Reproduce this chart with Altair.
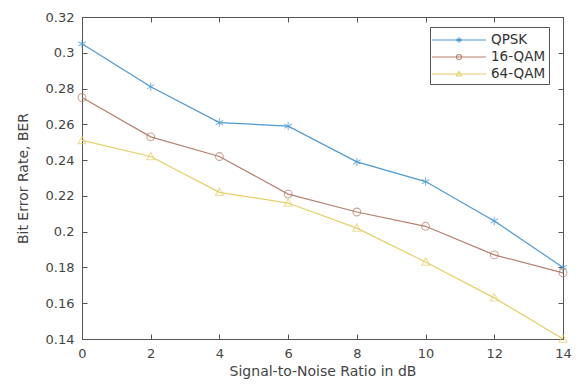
import altair as alt
import pandas as pd

snr = [0, 2, 4, 6, 8, 10, 12, 14]
qpsk = [0.305, 0.281, 0.261, 0.259, 0.239, 0.228, 0.206, 0.180]
qam16 = [0.275, 0.253, 0.242, 0.221, 0.211, 0.203, 0.187, 0.177]
qam64 = [0.251, 0.242, 0.222, 0.216, 0.202, 0.183, 0.163, 0.140]
yticks = [0.14, 0.16, 0.18, 0.2, 0.22, 0.24, 0.26, 0.28, 0.3, 0.32]
series = ["QPSK", "16-QAM", "64-QAM"]
colors = ["#4f9ad0", "#b8806e", "#e6cf6a"]
marker_paths = [
    "M0,-0.6L0,0.6M-0.52,-0.3L0.52,0.3M-0.52,0.3L0.52,-0.3",
    "M0.55,0A0.55,0.55,0,1,1,-0.55,0A0.55,0.55,0,1,1,0.55,0",
    "M0,-0.6L0.55,0.45L-0.55,0.45Z",
]
legend_paths = [
    "M-3,0H3M0,-0.3L0,0.3M-0.26,-0.15L0.26,0.15M-0.26,0.15L0.26,-0.15",
    "M-3,0H3M0.28,0A0.28,0.28,0,1,1,-0.28,0A0.28,0.28,0,1,1,0.28,0",
    "M-3,0H3M0,-0.3L0.28,0.22L-0.28,0.22Z",
]

rows = []
for name, vals in zip(series, [qpsk, qam16, qam64]):
    for x, v in zip(snr, vals):
        rows.append({"snr": x, "ber": v, "Scheme": name})
df = pd.DataFrame(rows)

xs = alt.Scale(domain=[0, 14], nice=False)
ys = alt.Scale(domain=[0.14, 0.32], nice=False)
col = alt.Color("Scheme:N", scale=alt.Scale(domain=series, range=colors), legend=None)

axis_common = dict(domainColor="#555", tickColor="#555", labelColor="#444",
                   titleColor="#444", labelFont="DejaVu Sans", titleFont="DejaVu Sans",
                   labelFontSize=13, titleFontSize=14, titleFontWeight="normal", grid=False,
                   labelFlush=False)

base = alt.Chart(df)

lines = base.mark_line(strokeWidth=1.2).encode(
    x=alt.X("snr:Q", scale=xs, axis=alt.Axis(title="Signal-to-Noise Ratio in dB",
            values=snr, format="d", tickSize=0, labelPadding=8, titlePadding=4, **axis_common)),
    y=alt.Y("ber:Q", scale=ys, axis=alt.Axis(title="Bit Error Rate, BER",
            values=yticks, format="~g",
            tickSize=0, labelPadding=8, titlePadding=15, **axis_common)),
    color=col,
    detail="Scheme:N",
)

points = base.mark_point(filled=False, size=200, strokeWidth=1.1).encode(
    x=alt.X("snr:Q", scale=xs, axis=None),
    y=alt.Y("ber:Q", scale=ys, axis=None),
    color=col,
    shape=alt.Shape("Scheme:N", scale=alt.Scale(domain=series, range=marker_paths), legend=None),
)

tick_axis = dict(labels=False, domain=False, tickSize=5, offset=-5, tickColor="#555",
                 title=None, grid=False)

def ticks(xorient, yorient):
    return base.mark_point(opacity=0).encode(
        x=alt.X("snr:Q", scale=xs, axis=alt.Axis(orient=xorient, values=snr, **tick_axis)),
        y=alt.Y("ber:Q", scale=ys, axis=alt.Axis(orient=yorient, values=yticks, **tick_axis)),
    )

legend_layer = base.mark_point(opacity=0, filled=False).encode(
    x=alt.X("snr:Q", scale=xs, axis=None),
    y=alt.Y("ber:Q", scale=ys, axis=None),
    stroke=alt.Stroke("Scheme:N", scale=alt.Scale(domain=series, range=colors),
                      legend=alt.Legend(title=None, orient="none", legendX=348, legendY=10,
                                        symbolOpacity=1, symbolSize=324, symbolStrokeWidth=1.1,
                                        symbolOffset=16, labelOffset=22,
                                        labelFont="DejaVu Sans", labelFontSize=13.5, labelColor="#333",
                                        strokeColor="#555", padding=3, rowPadding=0,
                                        symbolFillColor="transparent")),
    shape=alt.Shape("Scheme:N", scale=alt.Scale(domain=series, range=legend_paths)),
)

chart = alt.layer(lines, points, ticks("bottom", "left"), ticks("top", "right"), legend_layer).resolve_axis(
    x="independent", y="independent"
).resolve_scale(shape="independent", color="independent", stroke="independent").properties(
    width=481, height=322,
    autosize=alt.AutoSizeParams(type="none"),
    padding={"left": 74, "top": 9, "right": 9, "bottom": 46},
).configure_view(stroke="#555", strokeWidth=1)

chart.save("out.html", embed_options={"renderer": "svg", "actions": False})
